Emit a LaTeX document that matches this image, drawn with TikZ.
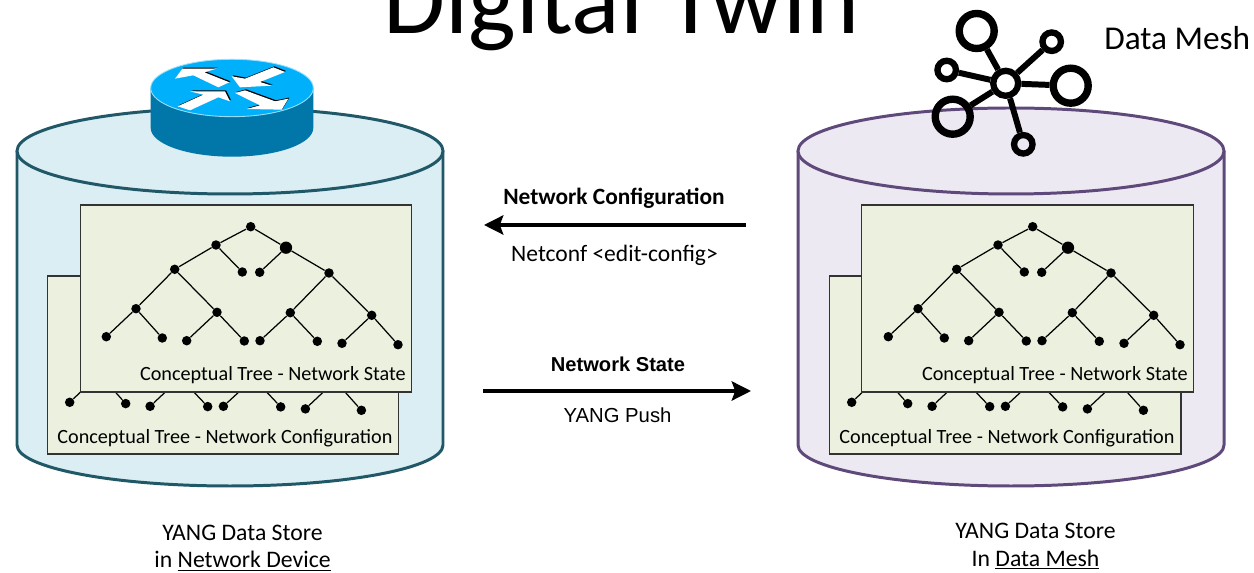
\documentclass[tikz,border=0pt]{standalone}
\usepackage{fontspec}
\setmainfont{Carlito}
\newfontfamily\arialfont{Liberation Sans}
\usetikzlibrary{arrows.meta, positioning}

\definecolor{deviceblue}{RGB}{218, 238, 243}
\definecolor{devicestroke}{RGB}{33, 88, 104}
\definecolor{meshpurple}{RGB}{236, 233, 243}
\definecolor{meshstroke}{RGB}{95, 73, 122}
\definecolor{panelgreen}{RGB}{235, 241, 222}
\definecolor{routertop}{RGB}{0, 176, 250}
\definecolor{routerside}{RGB}{0, 119, 168}

\tikzset{
    panel/.style={rectangle, draw=black!80, line width=0.6pt, fill=panelgreen, inner sep=0pt},
    panellabel/.style={font=\fontsize{11.5}{14}\selectfont, inner sep=0pt},
    dot/.style={circle, fill=black, inner sep=0pt, minimum size=5.4pt},
    bigdot/.style={circle, fill=black, inner sep=0pt, minimum size=7pt},
    meshbig/.style={circle, draw=black, line width=4.2pt, inner sep=0pt, minimum size=0.7cm},
    meshsmall/.style={circle, draw=black, line width=3.6pt, inner sep=0pt, minimum size=0.37cm},
    flow/.style={line width=1.8pt, -{Stealth[length=11pt, width=11pt, inset=2pt]}},
    caption/.style={font=\fontsize{13.5}{15.6}\selectfont, align=center, inner sep=0pt},
    pics/datastore/.style 2 args={code={
        \draw[fill=#1, draw=#2, line width=1.7pt] (17,151) -- (17,445)
            arc[start angle=180, end angle=0, x radius=213, y radius=41] -- (443,151);
        \draw[fill=#1, draw=#2, line width=1.7pt] (230,151) ellipse[x radius=213, y radius=43];
    }},
    pics/conceptree/.style={code={
        \node[dot] (-n1) at (250.7,226.7) {};
        \node[dot] (-n2) at (216,245) {};
        \node[bigdot] (-n3) at (286,247.7) {};
        \node[dot] (-n4) at (174.7,269.3) {};
        \node[dot] (-n5) at (242.3,272) {};
        \node[dot] (-n6) at (259.7,272.3) {};
        \node[dot] (-n7) at (329,273) {};
        \node[dot] (-n8) at (136,308.7) {};
        \node[dot] (-n9) at (217,312.3) {};
        \node[dot] (-n10) at (290.3,312.7) {};
        \node[dot] (-n11) at (371.7,315.3) {};
        \node[dot] (-n12) at (106.3,336.7) {};
        \node[dot] (-n13) at (162.3,338) {};
        \node[dot] (-n14) at (186.7,340.7) {};
        \node[dot] (-n15) at (244.3,341) {};
        \node[dot] (-n16) at (260,340.7) {};
        \node[dot] (-n17) at (317.3,341.3) {};
        \node[dot] (-n18) at (342,343.3) {};
        \node[dot] (-n19) at (398,344.7) {};
        \foreach \a/\b in {n1/n2, n1/n3, n2/n4, n2/n5, n3/n6, n3/n7, n4/n8, n4/n9, n7/n10, n7/n11,
                n8/n12, n8/n13, n9/n14, n9/n15, n10/n16, n10/n17, n11/n18, n11/n19}
            \draw[line width=0.7pt] (-\a) -- (-\b);
    }},
}

\begin{document}
\begin{tikzpicture}[x=0.02cm, y=-0.02cm]
    \clip (0,0) rectangle (1254,573);

    % Title
    \node[font=\fontsize{57.4}{60}\selectfont, inner sep=0pt, anchor=base] (title) at (621.5,34) {Digital Twin};

    % Left store
    \pic {datastore={deviceblue}{devicestroke}};
    \node[panel, minimum width=7.04cm, minimum height=3.56cm] (backleft) at (223,365) {};
    \pic (treeleftback) at (-36.6,65.6) {conceptree};
    \node[panel, minimum width=6.64cm, minimum height=3.74cm] (frontleft) at (246,298.5) {};
    \pic (treeleft) at (0,0) {conceptree};
    \node[panellabel, anchor=base east] (stateleft) at (406,380.5) {Conceptual Tree - Network State};
    \node[panellabel, anchor=base west] (configleft) at (57,443.5) {Conceptual Tree - Network Configuration};

    % Right store
    \pic at (781,0) {datastore={meshpurple}{meshstroke}};
    \node[panel, minimum width=7.04cm, minimum height=3.56cm] (backright) at (1005,365) {};
    \pic (treerightback) at (745.4,65.6) {conceptree};
    \node[panel, minimum width=6.64cm, minimum height=3.74cm] (frontright) at (1027.5,298.5) {};
    \pic (treeright) at (782,0) {conceptree};
    \node[panellabel, anchor=base east] (stateright) at (1188,380.5) {Conceptual Tree - Network State};
    \node[panellabel, anchor=base west] (configright) at (839,443.5) {Conceptual Tree - Network Configuration};

    % Router
    \draw[fill=routerside, draw=none] (150.7,88) -- (150.7,128)
        arc[start angle=180, end angle=0, x radius=81.3, y radius=28.7] -- (313.3,88) -- cycle;
    \draw[fill=routertop, draw=white!60!routertop, line width=0.5pt] (232,88) ellipse[x radius=81.3, y radius=28.7];
    \begin{scope}[shift={(165,58)}, x=0.00667cm, y=-0.00667cm]
        \foreach \offs/\col in {0.6/black, 0/white} {
            \begin{scope}[xshift=\offs*1pt, yshift=\offs*1pt]
                \fill[\col] (30,62) -- (52,32) -- (155,32) -- (118,43) -- (193,73) -- (160,88) -- (85,52) -- cycle;
                \fill[\col] (200,55) -- (240,62) -- (325,28) -- (360,42) -- (285,72) -- (320,83) -- (225,88) -- cycle;
                \fill[\col] (38,145) -- (115,110) -- (75,100) -- (180,100) -- (195,130) -- (160,118) -- (75,157) -- cycle;
                \fill[\col] (210,105) -- (240,97) -- (330,130) -- (370,122) -- (350,155) -- (245,153) -- (285,142) -- cycle;
            \end{scope}
        }
    \end{scope}

    % Mesh icon
    \node[meshsmall, minimum size=0.5cm] (hub) at (1005.7,83.3) {};
    \node[meshbig] (meshtl) at (976.7,31) {};
    \node[meshsmall] (meshtr) at (1051.7,41.7) {};
    \node[meshbig] (meshr) at (1070.7,85.7) {};
    \node[meshsmall] (meshl) at (946.7,70) {};
    \node[meshbig] (meshbl) at (952.7,116.7) {};
    \node[meshsmall] (meshb) at (1023.3,144.3) {};
    \foreach \leaf in {meshtl, meshtr, meshr, meshl, meshbl, meshb}
        \draw[line width=3.4pt] (hub) -- (\leaf);
    \node[font=\fontsize{18.95}{20}\selectfont, anchor=base west, inner sep=0pt] (meshname) at (1104,50) {Data Mesh};

    % Flows
    \coordinate (cfgstart) at (746,225);
    \coordinate (cfgend) at (484,225);
    \coordinate (statestart) at (483,391);
    \coordinate (stateend) at (751,391);
    \draw[flow] (cfgstart) -- (cfgend);
    \draw[flow] (statestart) -- (stateend);
    \node[font=\fontsize{13.3}{14}\selectfont\bfseries, inner sep=0pt] (cfghead) at (614,198.5) {Network Configuration};
    \node[font=\fontsize{13.4}{14}\selectfont, inner sep=0pt] (cfgsub) at (614.5,255.5) {Netconf <edit-config>};
    \node[font=\fontsize{11.45}{14}\selectfont\bfseries\arialfont, inner sep=0pt] (statehead) at (618,364) {Network State};
    \node[font=\fontsize{11.55}{14}\selectfont\arialfont, inner sep=0pt] (statesub) at (617.5,415.5) {YANG Push};

    % Captions
    \node[caption] (capleft) at (242.5,548) {YANG Data Store\\in \underline{Network Device}};
    \node[caption] (capright) at (1035.5,546.5) {YANG Data Store\\In \underline{Data Mesh}};
\end{tikzpicture}
\end{document}
